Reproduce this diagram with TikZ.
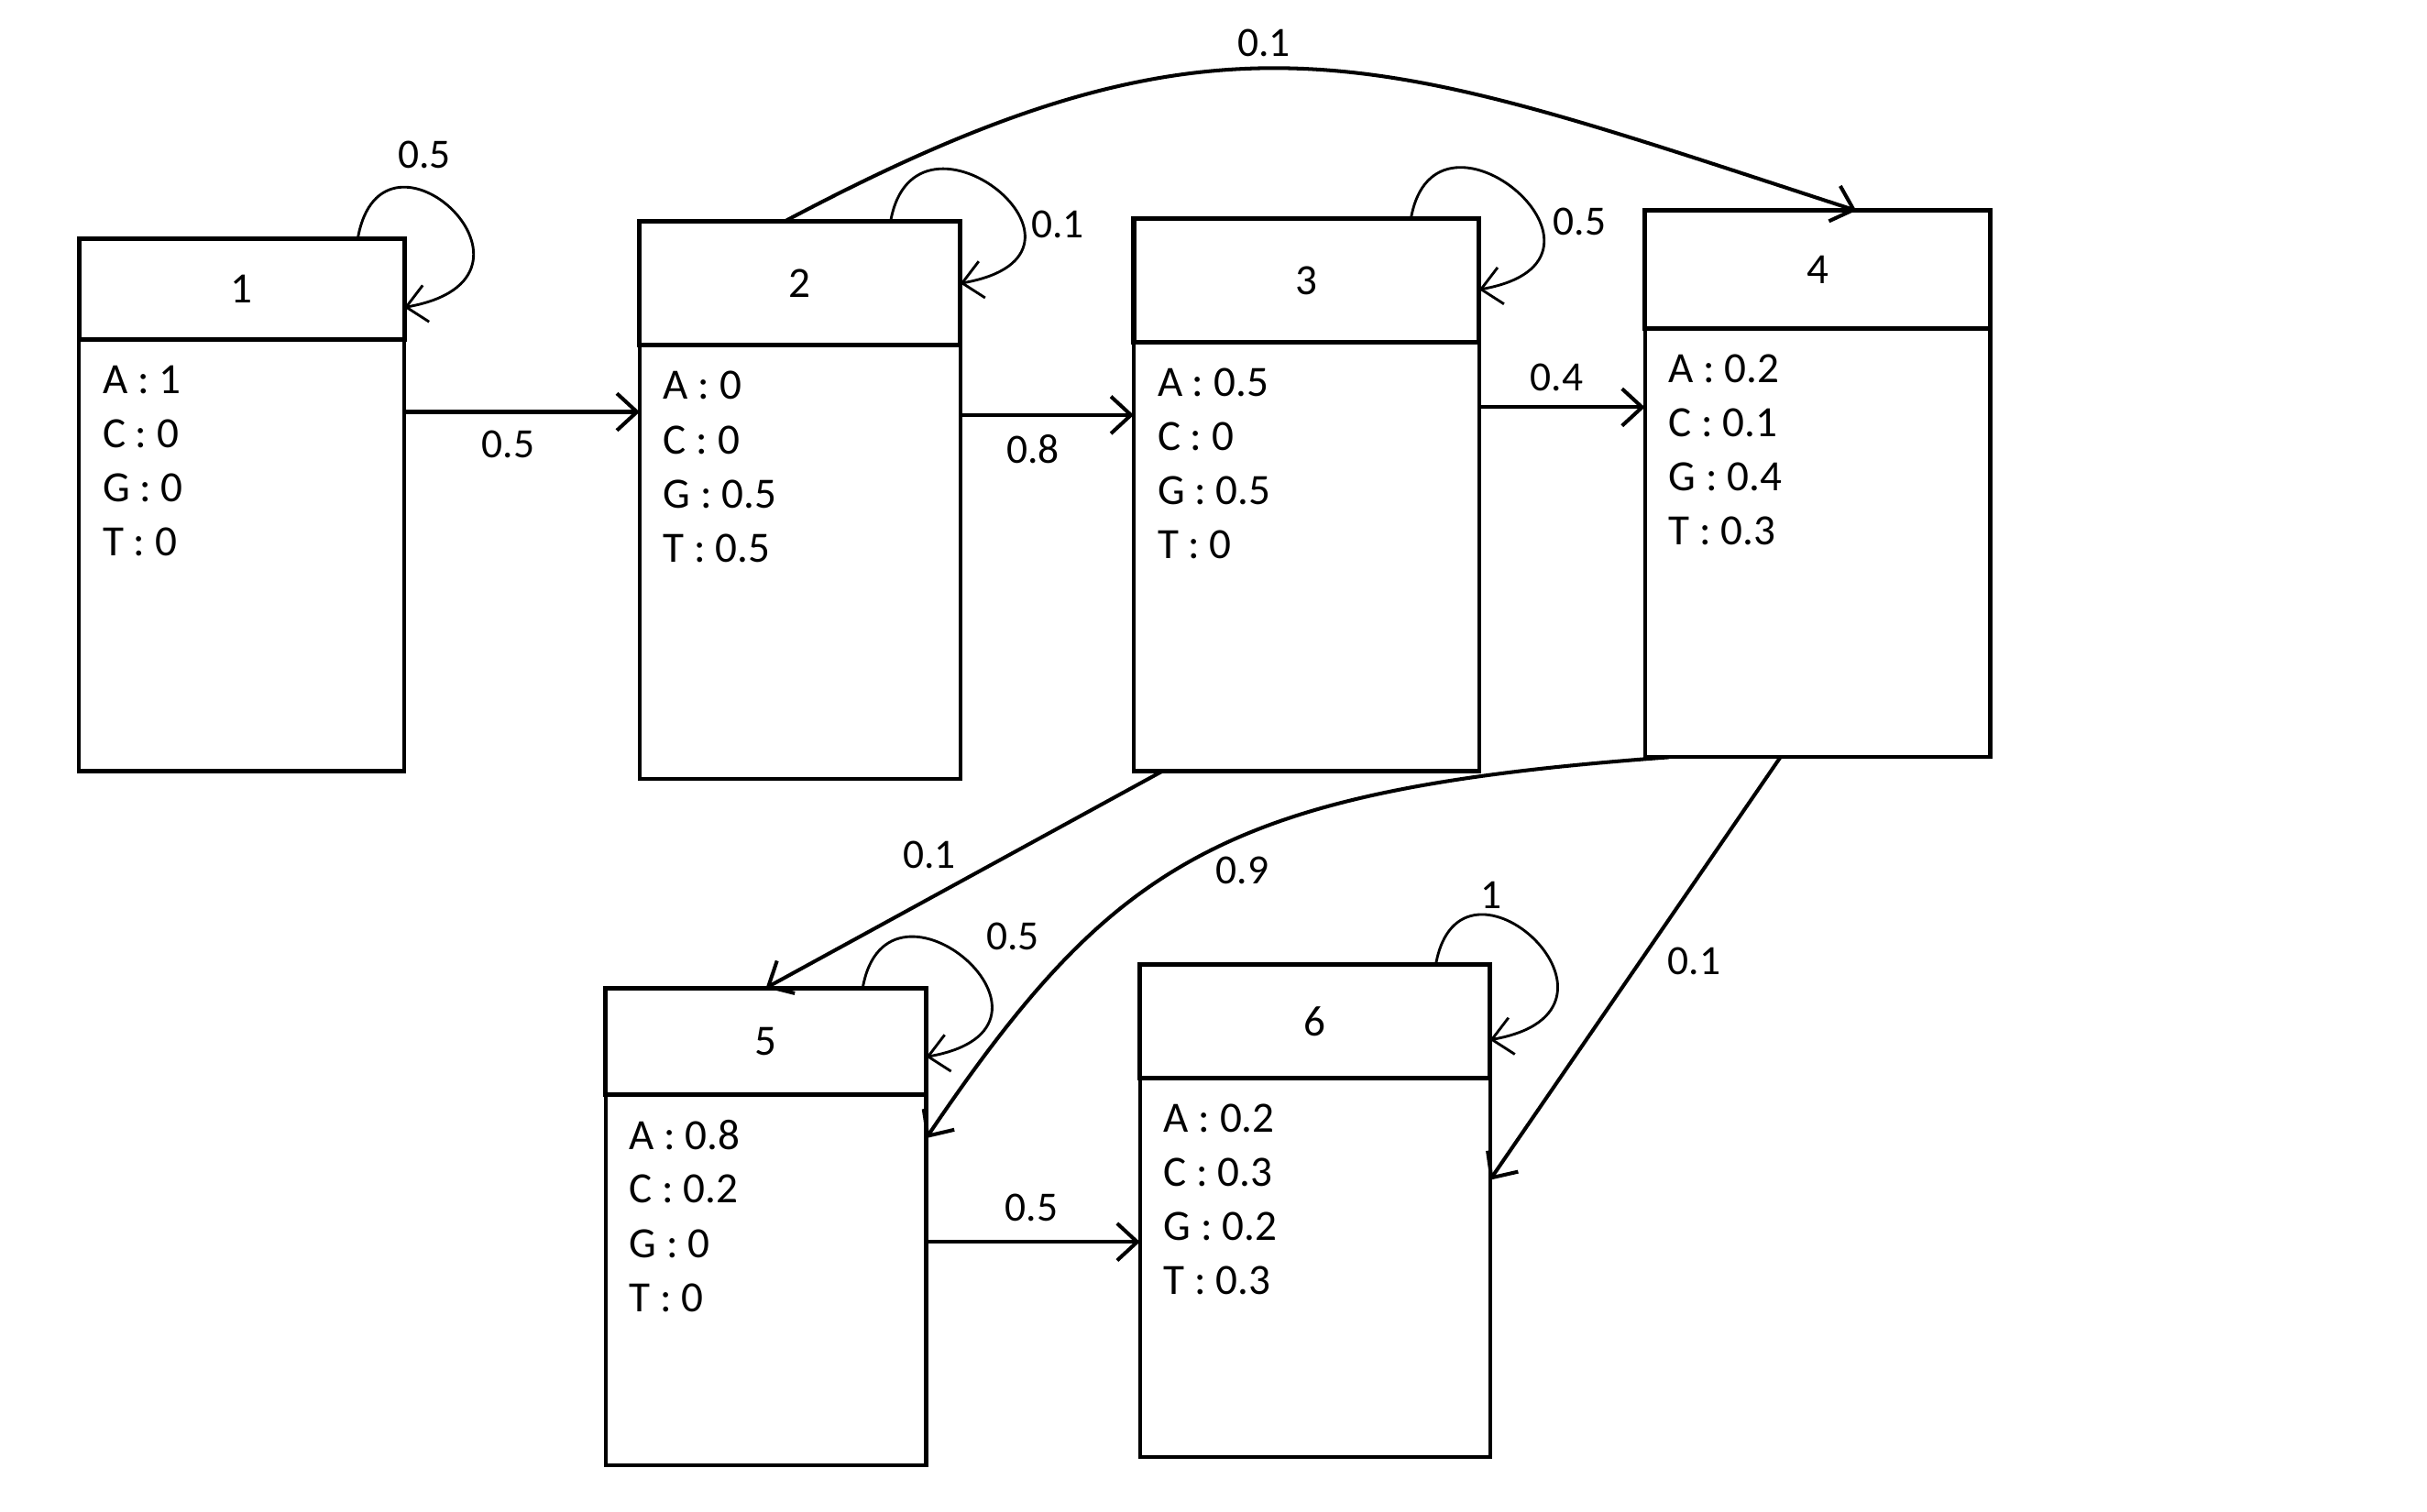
\documentclass[tikz,border=0pt]{standalone}
\usepackage{fontspec}
\setmainfont{Carlito}
\usetikzlibrary{arrows.meta,calc}

\tikzset{
  head/.style={draw, line width=1.5pt, outer sep=0pt, inner sep=0pt, font=\fontsize{14}{16}\selectfont},
  body/.style={draw, line width=1.25pt, outer sep=0pt, inner sep=0pt},
  emit/.style={anchor=west, inner sep=0pt, font=\fontsize{14}{17}\selectfont},
  prob/.style={inner sep=0pt, font=\fontsize{13.5}{16}\selectfont},
  trans/.style={-{Straight Barb[length=6.5pt,width=12pt]}, line width=1.2pt},
  selfarc/.style={trans, line width=0.85pt}
}

\begin{document}
\begin{tikzpicture}[x=0.5bp,y=-0.5bp]
  \useasboundingbox (0,0) rectangle (1567,976.4);

  % states: header with number, body with emission probabilities
  \foreach \n/\xl/\xr/\yt/\ym/\yb in {1/51/261/154/219/498, 2/413/620/143/223/503,
      3/732/955/141/221/498, 4/1062/1285/136/212/489, 5/391/598/638/707/946, 6/736/962/623/696/941}
  {
    \node[body, anchor=north west, minimum width={(\xr-\xl)*0.5bp}, minimum height={(\yb-\ym)*0.5bp}] (b\n) at (\xl,\ym) {};
    \node[head, anchor=north west, minimum width={(\xr-\xl)*0.5bp}, minimum height={(\ym-\yt)*0.5bp}] (h\n) at (\xl,\yt) {\n};
  }

  \foreach \n/\vA/\vC/\vG/\vT in {1/1/0/0/0, 2/0/0/0.5/0.5, 3/0.5/0/0.5/0, 4/0.2/0.1/0.4/0.3, 5/0.8/0.2/0/0, 6/0.2/0.3/0.2/0.3}
  {
    \node[emit] (e\n a) at ($(b\n.north west)+(15,26)$) {A : \vA};
    \node[emit] (e\n c) at ($(e\n a.west)+(0,35)$) {C : \vC};
    \node[emit] (e\n g) at ($(e\n c.west)+(0,35)$) {G : \vG};
    \node[emit] (e\n t) at ($(e\n g.west)+(0,35)$) {T : \vT};
  }

  % straight transitions
  \coordinate (s12) at ($(b1.north east)+(0,47)$);
  \draw[trans] (s12) -- (s12 -| b2.west);
  \coordinate (s23) at ($(b2.north east)+(0,45)$);
  \draw[trans] (s23) -- (s23 -| b3.west);
  \coordinate (s34) at ($(b3.north east)+(0,42)$);
  \draw[trans] (s34) -- (s34 -| b4.west);
  \coordinate (s56) at ($(b5.north east)+(0,95)$);
  \draw[trans] (s56) -- (s56 -| b6.west);
  \draw[trans] ($(b3.south)+(-93,0)$) -- (h5.north);
  \draw[trans] ($(b4.south)+(-24,0)$) -- ($(b6.north east)+(0,66)$);

  % curved transitions
  \draw[trans] ($(h2.north)+(-10,0)$) to[out=28,in=162,looseness=1.2] ($(h4.north)+(25,0)$);
  \draw[trans] ($(b4.south)+(-96,0)$) .. controls (790,510) and (720,555) .. ($(b5.north east)+(0,28)$);

  % self transitions
  \draw[selfarc] ($(h1.north east)+(-30,0)$) .. controls +(80:45pt) and +(10:55pt) .. ($(h1.east)+(0,12)$);
  \draw[selfarc] ($(h2.north east)+(-45,0)$) .. controls +(80:45pt) and +(10:55pt) .. (h2.east);
  \draw[selfarc] ($(h3.north east)+(-44,0)$) .. controls +(80:45pt) and +(10:55pt) .. ($(h3.east)+(0,6)$);
  \draw[selfarc] ($(h5.north east)+(-41,0)$) .. controls +(80:45pt) and +(10:55pt) .. ($(h5.east)+(0,10)$);
  \draw[selfarc] ($(h6.north east)+(-35,0)$) .. controls +(80:45pt) and +(10:55pt) .. ($(h6.east)+(0,12)$);

  % transition probabilities
  \node[prob] (p11) at (274,100) {0.5};
  \node[prob] (p12) at (328,287) {0.5};
  \node[prob] (p22) at (683,145) {0.1};
  \node[prob] (p23) at (667,290) {0.8};
  \node[prob] (p24) at (816,28) {0.1};
  \node[prob] (p33) at (1020,143) {0.5};
  \node[prob] (p34) at (1005,244) {0.4};
  \node[prob] (p35) at (600,552) {0.1};
  \node[prob] (p45) at (802,562) {0.9};
  \node[prob] (p46) at (1094,621) {0.1};
  \node[prob] (p55) at (654,605) {0.5};
  \node[prob] (p56) at (666,780) {0.5};
  \node[prob] (p66) at (963,578) {1};
\end{tikzpicture}
\end{document}
